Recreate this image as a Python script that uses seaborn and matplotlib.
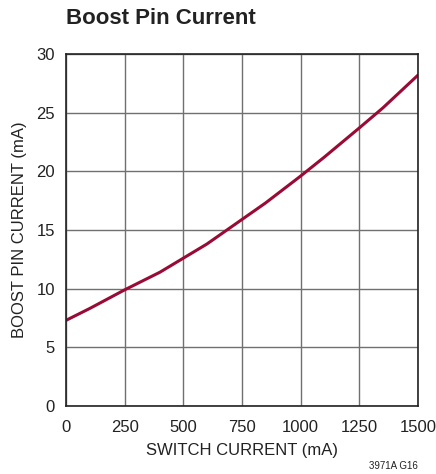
import matplotlib
matplotlib.use('Agg')
import matplotlib.pyplot as plt
import seaborn as sns
import pandas as pd

# Valores
corriente_switch = [0, 100, 250, 400, 500, 600, 750, 850, 1000, 1100, 1250, 1350, 1500]
corriente_boost = [7.3, 8.3, 9.9, 11.4, 12.6, 13.8, 15.9, 17.3, 19.6, 21.2, 23.7, 25.4, 28.2]
ticks_x = [0, 250, 500, 750, 1000, 1250, 1500]
ticks_y = [0, 5, 10, 15, 20, 25, 30]

datos = pd.DataFrame({'switch': corriente_switch, 'boost': corriente_boost})

sns.set_style('white')
plt.rcParams['font.family'] = ['Liberation Sans Narrow', 'Liberation Sans', 'DejaVu Sans']

fig = plt.figure(figsize=(4.36, 4.74), dpi=100)
ax = fig.add_axes([66 / 436, 1 - 406 / 474, 352 / 436, 352 / 474])

sns.lineplot(data=datos, x='switch', y='boost', ax=ax, color='#990a35', linewidth=2.2)

ax.set_xlim(0, 1500)
ax.set_ylim(0, 30)
ax.set_xticks(ticks_x)
ax.set_yticks(ticks_y)
ax.grid(True, color='#707070', linewidth=1.0)
for lado in ax.spines.values():
    lado.set_color('#222222')
    lado.set_linewidth(1.2)
ax.tick_params(axis='both', labelsize=12, length=0, colors='#222222')
ax.tick_params(axis='x', pad=10)
ax.tick_params(axis='y', pad=8)
ax.set_xlabel('SWITCH CURRENT (mA)', fontsize=12, color='#222222', labelpad=6)
ax.set_ylabel('BOOST PIN CURRENT (mA)', fontsize=12, color='#222222', labelpad=7)

fig.text(66 / 436, 1 - 19 / 474, 'Boost Pin Current', fontsize=16, fontweight='bold',
         va='center', ha='left', color='#222222')
fig.text(418 / 436, 1 - 466 / 474, '3971A G16', fontsize=7, ha='right', va='center', color='#222222')

fig.savefig('out.png', dpi=100)
